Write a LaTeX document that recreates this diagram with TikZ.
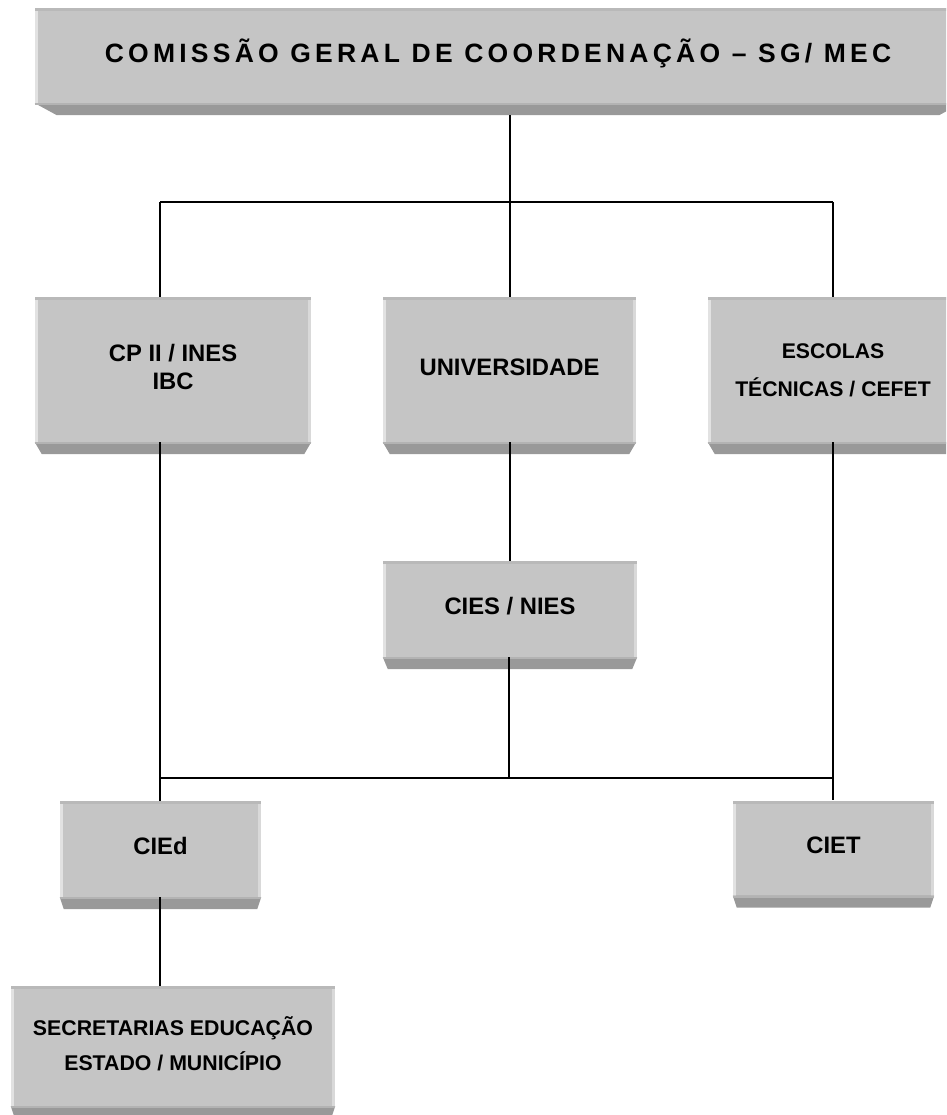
\documentclass[tikz,border=0pt]{standalone}
\usepackage{fontspec}
\setmainfont{Liberation Sans}
\newfontfamily\spacedfont[LetterSpace=16]{Liberation Sans}
\usetikzlibrary{calc}
\definecolor{facec}{HTML}{C5C5C5}
\definecolor{topc}{HTML}{B9B9B9}
\definecolor{leftc}{HTML}{E2E2E2}
\definecolor{rightc}{HTML}{D9D9D9}
\definecolor{bevc}{HTML}{999999}
\definecolor{sepc}{HTML}{B3B3B3}
\newcommand\boxtext[2]{\raisebox{#1}{\begin{tabular}{@{}c@{}}#2\end{tabular}}}
\newcommand\boxbevel[3]{%
  \fill[bevc] (#1.south west) -- (#1.south east) -- ([xshift=-#2pt,yshift=-#3pt]#1.south east) -- ([xshift=#2pt,yshift=-#3pt]#1.south west) -- cycle;
  \fill[sepc] (#1.south west) rectangle ([yshift=-2pt]#1.south east);}
\tikzset{
  box/.style={fill=facec, inner sep=0pt, font=\bfseries\fontsize{23.8}{28}\selectfont,
    path picture={
      \fill[leftc] (path picture bounding box.north west) rectangle ([xshift=3pt]path picture bounding box.south west);
      \fill[rightc] ([xshift=-3pt]path picture bounding box.north east) rectangle (path picture bounding box.south east);
      \fill[topc] (path picture bounding box.north west) rectangle ([yshift=-3pt]path picture bounding box.north east);
    }},
  conn/.style={draw=black, line width=1.8pt},
}
\begin{document}
\begin{tikzpicture}[x=1pt, y=-1pt]
\useasboundingbox (0,0) rectangle (946,1115);
\clip (0,0) rectangle (946,1115);
% boxes
\node[box, minimum width=926pt, minimum height=95pt, font=\spacedfont\bfseries\fontsize{26.5}{30}\selectfont] (top) at (498,55.5)
  {\boxtext{-1.5pt}{COMISSÃO GERAL DE COORDENAÇÃO – SG/ MEC}};
\boxbevel{top}{22}{12}
\node[box, minimum width=276pt, minimum height=145pt] (cp) at (173,369.5)
  {\boxtext{3pt}{CP II / INES\\IBC}};
\boxbevel{cp}{7}{12}
\node[box, minimum width=253pt, minimum height=145pt] (uni) at (509.5,369.5)
  {\boxtext{-1pt}{UNIVERSIDADE}};
\boxbevel{uni}{7}{12}
\node[box, minimum width=250pt, minimum height=145pt, font=\bfseries\fontsize{21.2}{38}\selectfont] (esc) at (833,369.5)
  {\boxtext{15pt}{ESCOLAS\\TÉCNICAS / CEFET}};
\boxbevel{esc}{7}{12}
\node[box, minimum width=254pt, minimum height=96pt] (cies) at (510,609)
  {\boxtext{2.5pt}{CIES / NIES}};
\boxbevel{cies}{5}{12}
\node[box, minimum width=201pt, minimum height=96pt] (cied) at (160.5,849)
  {\boxtext{1.5pt}{CIEd}};
\boxbevel{cied}{4}{12}
\node[box, minimum width=201pt, minimum height=95pt] (ciet) at (833.5,848)
  {\boxtext{0.5pt}{CIET}};
\boxbevel{ciet}{4}{12}
\node[box, minimum width=324pt, minimum height=120pt, font=\bfseries\fontsize{21.3}{35}\selectfont] (sec) at (173,1046)
  {\boxtext{0pt}{SECRETARIAS EDUCAÇÃO\\ESTADO / MUNICÍPIO}};
\boxbevel{sec}{4}{12}
% junctions
\coordinate (c1) at (160,202);
\coordinate (c2) at (510,202);
\coordinate (c3) at (833,202);
\coordinate (b1) at (160,778);
\coordinate (b2) at (509,778);
\coordinate (b3) at (833,778);
% connectors
\draw[conn] ($(top.south -| c2)+(0,12)$) -- (c2);
\draw[conn] (c1) -- (c3);
\draw[conn] (c1) -- (cp.north -| c1);
\draw[conn] (c2) -- (uni.north -| c2);
\draw[conn] (c3) -- (esc.north -| c3);
\draw[conn] (uni.south -| c2) -- (cies.north -| c2);
\draw[conn] (cp.south -| b1) -- (b1);
\draw[conn] (cies.south -| b2) -- (b2);
\draw[conn] (esc.south -| b3) -- (b3);
\draw[conn] (b1) -- (b3);
\draw[conn] (b1) -- (cied.north -| b1);
\draw[conn] (b3) -- (ciet.north -| b3);
\draw[conn] (cied.south -| b1) -- (sec.north -| b1);
\end{tikzpicture}
\end{document}
